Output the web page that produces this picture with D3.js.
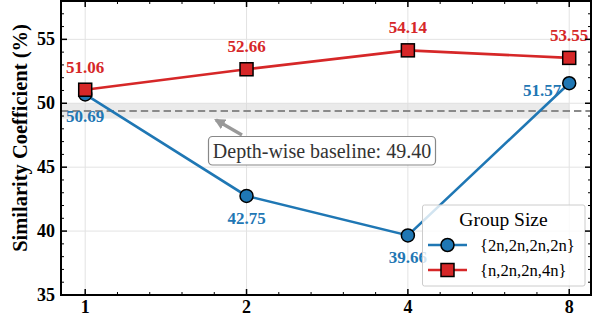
<!DOCTYPE html>
<html>
<head>
<meta charset="utf-8">
<script src="https://cdn.jsdelivr.net/npm/d3@7"></script>
<style>
  body { margin: 0; background: #fff; }
  svg { display: block; }
  svg text { font-family: "Liberation Serif", "DejaVu Serif", serif; }
</style>
</head>
<body>
<svg id="chart" width="592" height="320"></svg>
<script>
// values
const groupSizes = [1, 2, 4, 8];
const uniformGroups = [50.69, 42.75, 39.66, 51.57];
const mixedGroups = [51.06, 52.66, 54.14, 53.55];
const seriesNames = ['{2n,2n,2n,2n}', '{n,2n,2n,4n}'];
const baselineValue = 49.40;
const baselineBand = 0.6;
const yTicks = [35, 40, 45, 50, 55];

const blue = '#1f77b4';
const red = '#d62728';

const svg = d3.select('#chart');
const plotL = 61, plotR = 591, plotT = 1, plotB = 295;

const x = d3.scaleLog().base(2)
  .domain([Math.pow(2, -0.15), Math.pow(2, 3.135)])
  .range([plotL, plotR]);
const y = d3.scaleLinear().domain([35, 58]).range([plotB, plotT]);

// grid
const grid = svg.append('g').attr('stroke', '#e3e3e3').attr('stroke-width', 1);
grid.selectAll('.gx').data(groupSizes).join('line')
  .attr('x1', d => x(d)).attr('x2', d => x(d)).attr('y1', plotT).attr('y2', plotB);
grid.selectAll('.gy').data(yTicks).join('line')
  .attr('x1', plotL).attr('x2', plotR).attr('y1', d => y(d)).attr('y2', d => y(d));

// baseline band + dashed line
svg.append('rect')
  .attr('x', plotL).attr('y', y(baselineValue + baselineBand))
  .attr('width', x(8) - plotL)
  .attr('height', y(baselineValue - baselineBand) - y(baselineValue + baselineBand))
  .attr('fill', '#d9d9d9').attr('opacity', 0.55);
svg.append('line')
  .attr('x1', plotL).attr('x2', plotR)
  .attr('y1', y(baselineValue)).attr('y2', y(baselineValue))
  .attr('stroke', '#8a8a8a').attr('stroke-width', 2)
  .attr('stroke-dasharray', '7.4,4');

const line = d3.line().x(d => x(d[0])).y(d => y(d[1]));
const series = [
  { name: seriesNames[0], values: uniformGroups, color: blue, shape: 'circle' },
  { name: seriesNames[1], values: mixedGroups, color: red, shape: 'square' },
];

const drawMarker = (g, shape, color, cx, cy) => {
  if (shape === 'circle') {
    g.append('circle').attr('cx', cx).attr('cy', cy).attr('r', 6.5)
      .attr('fill', color).attr('stroke', '#000').attr('stroke-width', 1.5);
  } else {
    g.append('rect').attr('x', cx - 6.5).attr('y', cy - 6.5)
      .attr('width', 13).attr('height', 13)
      .attr('fill', color).attr('stroke', '#000').attr('stroke-width', 1.5);
  }
};

series.forEach((s) => {
  const pts = groupSizes.map((g, i) => [g, s.values[i]]);
  svg.append('path').attr('d', line(pts))
    .attr('fill', 'none').attr('stroke', s.color).attr('stroke-width', 2.6);
  const mg = svg.append('g');
  pts.forEach(p => drawMarker(mg, s.shape, s.color, x(p[0]), y(p[1])));
});

// value labels
const lbl = svg.append('g').attr('font-size', 17).attr('font-weight', 'bold');
groupSizes.forEach((g, i) => {
  lbl.append('text').attr('x', x(g)).attr('y', y(mixedGroups[i]) - 17)
    .attr('text-anchor', 'middle').attr('fill', red).text(mixedGroups[i].toFixed(2));
  const last = i === groupSizes.length - 1;
  lbl.append('text')
    .attr('x', last ? x(g) - 8 : x(g))
    .attr('y', last ? y(uniformGroups[i]) + 13 : y(uniformGroups[i]) + 28)
    .attr('text-anchor', last ? 'end' : 'middle')
    .attr('fill', blue).text(uniformGroups[i].toFixed(2));
});

// annotation
svg.append('defs').append('marker')
  .attr('id', 'arrow-gray')
  .attr('viewBox', [0, 0, 10, 10])
  .attr('refX', 8).attr('refY', 5)
  .attr('markerUnits', 'userSpaceOnUse')
  .attr('markerWidth', 11).attr('markerHeight', 11)
  .attr('orient', 'auto')
  .append('path').attr('d', 'M 0 0 L 10 5 L 0 10 z').attr('fill', '#999');
svg.append('line')
  .attr('x1', 242).attr('y1', 135).attr('x2', 216).attr('y2', 120)
  .attr('stroke', '#999').attr('stroke-width', 3.2)
  .attr('marker-end', 'url(#arrow-gray)');
svg.append('rect')
  .attr('x', 208.5).attr('y', 136.5).attr('width', 227).attr('height', 28.5).attr('rx', 4)
  .attr('fill', '#fff').attr('stroke', '#888').attr('stroke-width', 1.2);
svg.append('text').attr('x', 322).attr('y', 157.5).attr('text-anchor', 'middle')
  .attr('font-size', 20).attr('fill', '#333')
  .text(`Depth-wise baseline: ${baselineValue.toFixed(2)}`);

// legend
const lg = svg.append('g');
lg.append('rect').attr('x', 422.5).attr('y', 205).attr('width', 162.5).attr('height', 81)
  .attr('rx', 2).attr('fill', '#fff').attr('fill-opacity', 0.8)
  .attr('stroke', '#ccc').attr('stroke-width', 1);
lg.append('text').attr('x', 503.5).attr('y', 226).attr('text-anchor', 'middle')
  .attr('font-size', 19.5).attr('fill', '#000').text('Group Size');
series.forEach((s, i) => {
  const ly = 245 + i * 25;
  lg.append('line').attr('x1', 428).attr('x2', 467).attr('y1', ly).attr('y2', ly)
    .attr('stroke', s.color).attr('stroke-width', 2.6);
  drawMarker(lg, s.shape, s.color, 447.5, ly);
  lg.append('text').attr('x', 480).attr('y', ly + 5.5)
    .attr('font-size', 16.6).attr('fill', '#000').text(s.name);
});

// frame, ticks
const frame = svg.append('g').attr('stroke', '#000');
const minorX = d3.range(0, 16).map(k => Math.pow(2, k * 0.2)).filter(v => !groupSizes.includes(v) && v <= x.domain()[1]);
const minorY = d3.range(35, 59).filter(v => v % 5 !== 0);
groupSizes.forEach(g => {
  frame.append('line').attr('x1', x(g)).attr('x2', x(g)).attr('y1', plotB).attr('y2', plotB - 6).attr('stroke-width', 1.5);
  frame.append('line').attr('x1', x(g)).attr('x2', x(g)).attr('y1', plotT).attr('y2', plotT + 6).attr('stroke-width', 1.5);
});
minorX.forEach(v => {
  frame.append('line').attr('x1', x(v)).attr('x2', x(v)).attr('y1', plotB).attr('y2', plotB - 3).attr('stroke-width', 1);
  frame.append('line').attr('x1', x(v)).attr('x2', x(v)).attr('y1', plotT).attr('y2', plotT + 3).attr('stroke-width', 1);
});
yTicks.forEach(v => {
  frame.append('line').attr('x1', plotL).attr('x2', plotL + 6).attr('y1', y(v)).attr('y2', y(v)).attr('stroke-width', 1.5);
  frame.append('line').attr('x1', plotR).attr('x2', plotR - 6).attr('y1', y(v)).attr('y2', y(v)).attr('stroke-width', 1.5);
});
minorY.forEach(v => {
  frame.append('line').attr('x1', plotL).attr('x2', plotL + 3).attr('y1', y(v)).attr('y2', y(v)).attr('stroke-width', 1);
  frame.append('line').attr('x1', plotR).attr('x2', plotR - 3).attr('y1', y(v)).attr('y2', y(v)).attr('stroke-width', 1);
});
frame.append('rect').attr('x', plotL).attr('y', plotT).attr('width', plotR - plotL).attr('height', plotB - plotT)
  .attr('fill', 'none').attr('stroke-width', 2);

// tick labels
const tl = svg.append('g').attr('font-size', 18).attr('font-weight', 'bold').attr('fill', '#000');
groupSizes.forEach(g => {
  tl.append('text').attr('x', x(g)).attr('y', 313).attr('text-anchor', 'middle').text(g);
});
yTicks.forEach(v => {
  tl.append('text').attr('x', 55).attr('y', y(v) + 6).attr('text-anchor', 'end').text(v);
});

svg.append('text')
  .attr('transform', 'translate(27,138) rotate(-90)')
  .attr('text-anchor', 'middle').attr('font-size', 20.5).attr('font-weight', 'bold')
  .text('Similarity Coefficient (%)');
</script>
</body>
</html>
